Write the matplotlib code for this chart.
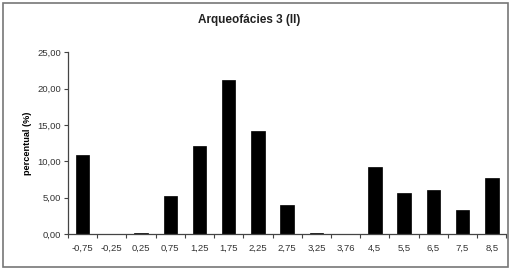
import matplotlib.pyplot as plt
import numpy as np
from matplotlib.patches import Rectangle

plt.rcParams['font.family'] = ['Liberation Sans', 'DejaVu Sans']

# classes granulométricas (phi) et percentuais
classes = ['-0,75', '-0,25', '0,25', '0,75', '1,25', '1,75', '2,25', '2,75',
           '3,25', '3,76', '4,5', '5,5', '6,5', '7,5', '8,5']
percentual = [10.8, 0.0, 0.2, 5.3, 12.1, 21.1, 14.2, 4.0,
              0.2, 0.0, 9.2, 5.7, 6.0, 3.3, 7.7]
y_ticks = [0, 5, 10, 15, 20, 25]

fig = plt.figure(figsize=(5.11, 2.70), dpi=100)
ax = fig.add_axes([0.133, 0.133, 0.858, 0.674])

x = np.arange(len(classes))
ax.bar(x, percentual, width=0.46, color='black', edgecolor='black', linewidth=0.5)

ax.set_xlim(-0.5, len(classes) - 0.5)
ax.set_ylim(0, 25)
ax.set_yticks(y_ticks)
ax.set_yticklabels([f'{v:.2f}'.replace('.', ',') for v in y_ticks], fontsize=6.8, color='#333333')
ax.set_xticks(x)
ax.set_xticklabels(classes, fontsize=6.8, color='#333333')
ax.set_xticks(np.arange(len(classes) + 1) - 0.5, minor=True)
ax.tick_params(axis='x', which='major', length=0, pad=7)
ax.tick_params(axis='x', which='minor', length=3, width=0.8, direction='out', color='#444444')
ax.tick_params(axis='y', length=3, width=0.8, color='#444444', pad=2)

for s in ['top', 'right']:
    ax.spines[s].set_visible(False)
for s in ['left', 'bottom']:
    ax.spines[s].set_color('#444444')
    ax.spines[s].set_linewidth(0.9)

ax.set_ylabel('percentual (%)', fontsize=6.6, fontweight='bold', labelpad=4)
fig.text(0.488, 0.925, 'Arqueofácies 3 (II)', fontsize=8.5, fontweight='bold',
         ha='center', va='center', color='#222222')

# moldura cinza em volta da figura
fig.patches.append(Rectangle((0.006, 0.01), 0.988, 0.98, transform=fig.transFigure,
                             fill=False, edgecolor='#777777', linewidth=1.2))

fig.savefig('out.png', dpi=100)
